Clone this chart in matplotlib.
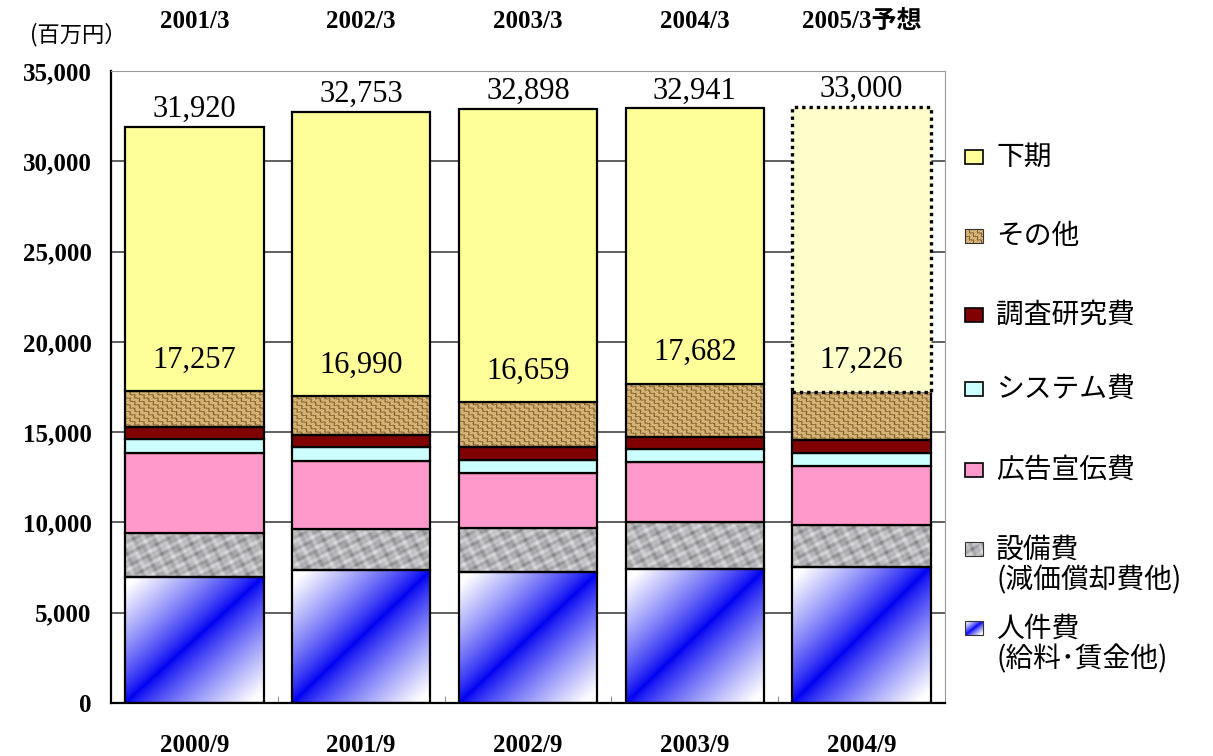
import numpy as np
import matplotlib
matplotlib.use("Agg")
import matplotlib.pyplot as plt
from matplotlib.patches import Rectangle

# half-year periods (bottom) and fiscal years (top)
periods = ["2000/9", "2001/9", "2002/9", "2003/9", "2004/9"]
fiscal_years = ["2001/3", "2002/3", "2003/3", "2004/3", "2005/3予想"]

# first-half breakdown, million yen
personnel = np.array([6990, 7340, 7250, 7420, 7540])
equipment = np.array([2440, 2310, 2420, 2620, 2290])
advertising = np.array([4440, 3770, 3070, 3290, 3310])
system = np.array([770, 740, 740, 740, 720])
research = np.array([670, 670, 680, 650, 690])
first_half = np.array([17257, 16990, 16659, 17682, 17226])
full_year = np.array([31920, 32753, 32898, 32941, 33000])

other = first_half - (personnel + equipment + advertising + system + research)
second_half = full_year - first_half

SERIF = ["Liberation Serif", "Noto Sans CJK JP"]
SANS = ["Noto Sans CJK JP", "DejaVu Sans"]


def gradient_tex(h=120, w=120):
    u = np.linspace(0, 1, w)[None, :]
    v = np.linspace(1, 0, h)[:, None]
    t = np.clip(np.abs(u - v) * 1.1, 0, 1) ** 0.8
    blue = np.array([0.0, 0.0, 0.95])
    white = np.array([1.0, 1.0, 1.0])
    return blue * (1 - t[..., None]) + white * t[..., None]


def granite_tex(h=40, w=120):
    i, j = np.mgrid[0:h, 0:w].astype(float)
    g = (np.sin(i * 0.45 + j * 0.19) + np.sin(i * 0.21 - j * 0.41)
         + np.sin(i * 0.85 + j * 0.65) * 0.7 + np.sin(j * 1.05 - i * 0.35) * 0.6
         + np.sin(i * 1.6 - j * 1.9) * 0.3)
    g = (g - g.min()) / (g.max() - g.min())
    val = 0.45 + 0.45 * g ** 0.8
    return np.dstack([val, val, val * 1.02]).clip(0, 1)


def weave_tex(h=40, w=120):
    i, j = np.mgrid[0:h, 0:w]
    tile = ((i // 4) + (j // 4)) % 2
    line = np.where(tile == 0, i % 4 == 0, j % 4 == 0)
    light = np.array([0.94, 0.85, 0.62])
    dark = np.array([0.50, 0.36, 0.16])
    base = np.array([0.78, 0.63, 0.38])
    img = np.where(line[..., None], dark, np.where(((i + j) % 3 == 0)[..., None], light, base))
    return img


fig = plt.figure(figsize=(12.13, 7.56), dpi=100)
ax = fig.add_axes([0.0915, 0.0701, 0.6875, 0.8360])

x = np.arange(len(periods))
width = 0.83
bottom = np.zeros(len(x))

segments = [
    ("人件費", personnel, "gradient"),
    ("設備費", equipment, "granite"),
    ("広告宣伝費", advertising, "#FF99CC"),
    ("システム費", system, "#CCFFFF"),
    ("調査研究費", research, "#800000"),
    ("その他", other, "weave"),
]
textures = {"gradient": gradient_tex, "granite": granite_tex, "weave": weave_tex}

for name, vals, style in segments:
    if style in textures:
        for xi, b, v in zip(x, bottom, vals):
            rows = 120 if style == "gradient" else max(6, int(v / 45))
            ax.imshow(textures[style](rows, 120), extent=(xi - width / 2, xi + width / 2, b, b + v),
                      aspect="auto", interpolation="bilinear", zorder=2)
        ax.bar(x, vals, width, bottom=bottom, color="none", edgecolor="black", linewidth=1.6, zorder=3)
    else:
        ax.bar(x, vals, width, bottom=bottom, color=style, edgecolor="black", linewidth=1.6, zorder=3)
    bottom = bottom + vals

# second half: actual years solid, forecast dotted
ax.bar(x[:-1], second_half[:-1], width, bottom=bottom[:-1], color="#FFFF99",
       edgecolor="black", linewidth=1.6, zorder=3)
ax.bar(x[-1:], second_half[-1:], width, bottom=bottom[-1:], color="#FFFFCC",
       edgecolor="black", linewidth=2.4, linestyle=(0, (1, 1.2)), zorder=3)

for xi, h1, fy in zip(x, first_half, full_year):
    ax.annotate(f"{h1:,}", (xi, h1), xytext=(0, 12), textcoords="offset points",
                ha="center", va="bottom", fontsize=22, family=SERIF, zorder=5)
    ax.annotate(f"{fy:,}", (xi, fy), xytext=(0, 2), textcoords="offset points",
                ha="center", va="bottom", fontsize=22, family=SERIF, zorder=5)

ax.set_xlim(-0.5, len(x) - 0.5)
ax.set_ylim(0, 35000)
ax.set_yticks(np.arange(0, 35001, 5000))
ax.set_yticklabels([f"{v:,}" for v in range(0, 35001, 5000)], fontsize=18,
                   fontweight="bold", family=SERIF)
ax.set_xticks(x)
ax.set_xticklabels(periods, fontsize=18, fontweight="bold", family=SERIF)
ax.set_xticks(x[:-1] + 0.5, minor=True)
ax.tick_params(axis="y", length=0, pad=14)
ax.tick_params(axis="x", which="major", length=0, pad=22)
ax.tick_params(axis="x", which="minor", direction="in", length=5, color="#777777")
ax.yaxis.grid(True, color="#444444", linewidth=1.2)
ax.set_axisbelow(True)
for s in ["top", "right"]:
    ax.spines[s].set_color("#999999")
for s in ["left", "bottom"]:
    ax.spines[s].set_linewidth(1.6)

top = ax.secondary_xaxis("top")
top.set_xticks(x)
top.set_xticklabels(fiscal_years, fontsize=18, fontweight="bold", family=SERIF)
top.tick_params(length=0, pad=27)
top.spines["top"].set_visible(False)

fig.text(0.025, 1 - 35 / 756, "(百万円）", fontsize=16, family=SANS, va="center")

# legend drawn by hand on the right
lax = fig.add_axes([955 / 1213, 0, 258 / 1213, 1])
lax.set_xlim(955, 1213)
lax.set_ylim(756, 0)
lax.axis("off")
legend_items = [
    ("下期", "#FFFF99", 157, 157),
    ("その他", "weave", 236, 236),
    ("調査研究費", "#800000", 315, 315),
    ("システム費", "#CCFFFF", 389, 389),
    ("広告宣伝費", "#FF99CC", 470, 470),
    ("設備費\n(減価償却費他)", "granite", 549, 565),
    ("人件費\n(給料･賃金他)", "gradient", 628, 644),
]
for label, style, ys, yt in legend_items:
    if style in textures:
        lax.imshow(textures[style](16, 18), extent=(965, 983, ys + 7, ys - 7),
                   aspect="auto", interpolation="bilinear")
        lax.add_patch(Rectangle((965, ys - 7), 18, 14, fill=False, edgecolor="#333333", linewidth=0.8))
    else:
        lax.add_patch(Rectangle((965, ys - 7), 18, 14, facecolor=style, edgecolor="black", linewidth=1.2))
    lax.text(996, yt, label, fontsize=20, family=SANS, va="center", ha="left", linespacing=1.05)

fig.savefig("out.png", dpi=100)
